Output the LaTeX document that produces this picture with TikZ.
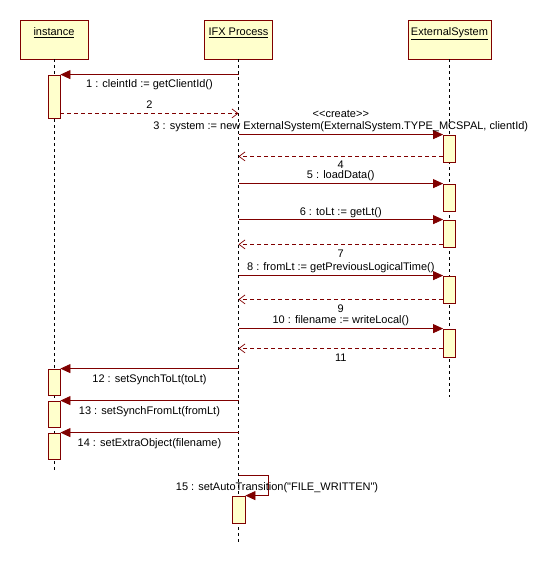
\documentclass[tikz,border=0pt]{standalone}
\usepackage{fontspec}
\newfontfamily\umlfont{Liberation Sans}
\usetikzlibrary{arrows.meta}
\definecolor{umlred}{HTML}{800000}
\definecolor{umlfill}{HTML}{FFFFCC}
\tikzset{
  obj/.style={draw=umlred, line width=0.8pt, fill=umlfill, minimum height=39pt, inner sep=0pt},
  hdr/.style={anchor=north, yshift=-7pt, inner sep=1pt},
  act/.style={draw=umlred, line width=0.8pt, fill=umlfill, minimum width=12pt, minimum height=27pt, inner sep=0pt},
  life/.style={black, line width=0.8pt, dash pattern=on 3pt off 3pt},
  msg/.style={umlred, line width=0.8pt, -{Triangle[length=10pt,width=9pt]}},
  ret/.style={umlred, line width=0.7pt, dash pattern=on 4pt off 3pt, -{Straight Barb[length=6pt,width=9pt]}},
  lbl/.style={text=black, inner sep=1pt, text height=8pt, text depth=2.5pt},
}
\begin{document}
\begin{tikzpicture}[x=1pt, y=-1pt, font=\umlfont\fontsize{11}{13}\selectfont]
  \useasboundingbox (0,0) rectangle (542,564);
  % Objects
  \node[obj, minimum width=68pt, label={[hdr]north:\underline{instance}}] (inst) at (54,39.5) {};
  \node[obj, minimum width=68pt, label={[hdr]north:\underline{IFX Process}}] (ifx) at (238.5,39.5) {};
  \node[obj, minimum width=83pt, label={[hdr]north:\underline{ExternalSystem}}] (ext) at (449.5,39.5) {};
  % Lifelines
  \coordinate (instend) at (54,470);
  \coordinate (ifxend) at (238.5,542);
  \coordinate (extend) at (449.5,397);
  \draw[life] (inst.south) -- (instend);
  \draw[life] (ifx.south) -- (ifxend);
  \draw[life] (ext.south) -- (extend);
  % Activations
  \node[act, minimum height=43pt] (i1) at (54,96.5) {};
  \node[act] (e1) at (449.5,148.5) {};
  \node[act] (e2) at (449.5,197.5) {};
  \node[act] (e3) at (449.5,233.5) {};
  \node[act] (e4) at (449.5,289.5) {};
  \node[act, minimum height=28pt] (e5) at (449.5,343) {};
  \node[act, minimum height=26pt] (i2) at (54,382) {};
  \node[act, minimum height=26pt] (i3) at (54,414) {};
  \node[act, minimum height=26pt] (i4) at (54,446) {};
  \node[act, minimum width=13pt] (p1) at (238.5,509.5) {};
  % Messages
  \draw[msg] (i1.north east -| ifx.south) -- (i1.north east)
    node[lbl, midway, below=4pt] {1 : cleintId := getClientId()};
  \draw[ret] ([yshift=5pt]i1.south east) coordinate (r2) -- (r2 -| ifx.south)
    node[lbl, midway, above=1pt] {2};
  \draw[msg] (e1.north west -| ifx.south) -- (e1.north west)
    node[lbl, midway, above=1pt] (m3) {3 : system := new ExternalSystem(ExternalSystem.TYPE\_MCSPAL, clientId)};
  \node[lbl, anchor=south, inner sep=0pt] (s3) at (m3.north) {<<create>>};
  \draw[ret] ([yshift=6pt]e1.south west) coordinate (r4) -- (r4 -| ifx.south)
    node[lbl, midway, below=3pt] {4};
  \draw[msg] (e2.north west -| ifx.south) -- (e2.north west)
    node[lbl, midway, above=1pt] {5 : loadData()};
  \draw[msg] (e3.north west -| ifx.south) -- (e3.north west)
    node[lbl, midway, above=0pt] {6 : toLt := getLt()};
  \draw[ret] ([yshift=3pt]e3.south west) coordinate (r7) -- (r7 -| ifx.south)
    node[lbl, midway, below=4pt] {7};
  \draw[msg] (e4.north west -| ifx.south) -- (e4.north west)
    node[lbl, midway, above=1pt] {8 : fromLt := getPreviousLogicalTime()};
  \draw[ret] ([yshift=4pt]e4.south west) coordinate (r9) -- (r9 -| ifx.south)
    node[lbl, midway, below=4pt] {9};
  \draw[msg] (e5.north west -| ifx.south) -- (e5.north west)
    node[lbl, midway, above=1pt] {10 : filename := writeLocal()};
  \draw[ret] ([yshift=9pt]e5.south west) coordinate (r11) -- (r11 -| ifx.south)
    node[lbl, midway, below=4pt] {11};
  \draw[msg] (i2.north east -| ifx.south) -- (i2.north east)
    node[lbl, midway, below=4pt] {12 : setSynchToLt(toLt)};
  \draw[msg] (i3.north east -| ifx.south) -- (i3.north east)
    node[lbl, midway, below=4pt] {13 : setSynchFromLt(fromLt)};
  \draw[msg] (i4.north east -| ifx.south) -- (i4.north east)
    node[lbl, midway, below=4pt] {14 : setExtraObject(filename)};
  % Self call
  \draw[msg] ([yshift=20pt]p1.north) -- ++(30,0) |- (p1.north east);
  \node[lbl] (m15) at (277,488) {15 : setAutoTransition("FILE\_WRITTEN")};
\end{tikzpicture}
\end{document}
